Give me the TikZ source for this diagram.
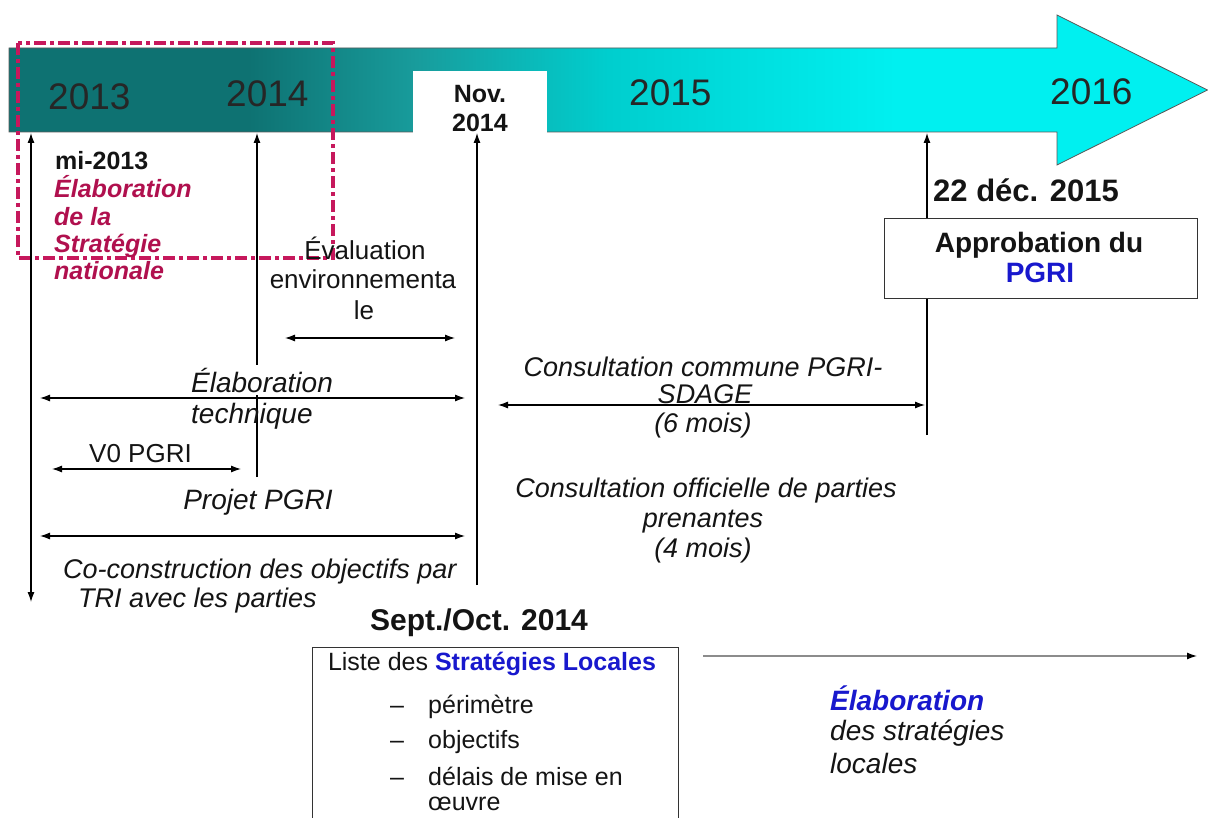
\documentclass[tikz,border=0pt]{standalone}
\usepackage{fontspec}
\setmainfont{Liberation Sans}
\usetikzlibrary{arrows.meta}
\definecolor{txt}{RGB}{20,20,20}
\definecolor{crim}{RGB}{176,16,78}
\definecolor{pinkln}{RGB}{198,24,92}
\definecolor{pblue}{RGB}{24,24,205}
\definecolor{tla}{RGB}{14,114,114}
\definecolor{tlb}{RGB}{24,156,156}
\definecolor{tlc}{RGB}{0,206,206}
\definecolor{tld}{RGB}{0,240,240}
\pgfdeclarehorizontalshading{timeline}{100bp}{color(0bp)=(tla); color(35bp)=(tla); color(42bp)=(tlb); color(50bp)=(tlc); color(62bp)=(tld); color(100bp)=(tld)}
\newcommand{\myfs}[1]{\fontsize{#1}{#1}\selectfont}
\begin{document}
\begin{tikzpicture}[x=1pt,y=-1pt,
  >={Latex[length=10pt,width=7pt]},
  every node/.style={inner sep=0pt, text=txt},
  conn/.style={draw=black, line width=1.1pt},
  yr/.style={font=\myfs{37}, text=black!85, anchor=base west},
  nrm/.style={font=\myfs{26}},
  itl/.style={font=\itshape\myfs{27}},
  itlb/.style={font=\itshape\myfs{28}},
  bld/.style={font=\bfseries\myfs{25}},
  strat/.style={font=\bfseries\itshape\myfs{25}, text=crim, anchor=base west},
  lst/.style={font=\myfs{25}, anchor=base west},
  boxed/.style={draw=black!80, line width=1pt, fill=white}
]
\useasboundingbox (0,0) rectangle (1208,818);

% timeline arrow
\shadedraw[shading=timeline, draw=black!65, line width=0.8pt]
  (9,48) -- (1057,48) -- (1057,15) -- (1207.5,90) -- (1057,165) -- (1057,132) -- (9,132) -- cycle;
\fill[white] (413,71) rectangle (547,133);

% national strategy frame
\draw[pinkln, line width=3.5pt, dash pattern=on 12pt off 4pt on 4pt off 4pt] (18,43) rectangle (333,258);

% years
\node[yr] (t2013) at (48,110) {2013};
\node[yr] (t2014) at (226,107) {2014};
\node[yr] (t2015) at (629,106) {2015};
\node[yr] (t2016) at (1050,105) {2016};
\node[bld, anchor=base] (nov1) at (480,103) {Nov.};
\node[bld, anchor=base] (nov2) at (480,132) {2014};

% coordinates
\coordinate (a1) at (31,133);  \coordinate (a2) at (31,602);
\coordinate (b1) at (257,133); \coordinate (b2) at (257,477);
\coordinate (c1) at (477,133); \coordinate (c2) at (477,585);
\coordinate (d1) at (927,133); \coordinate (d2) at (927,435);
\coordinate (envL) at (285,338); \coordinate (envR) at (455,338);
\coordinate (techL) at (40,398); \coordinate (techR) at (465,398);
\coordinate (v0L) at (52,469);   \coordinate (v0R) at (241,469);
\coordinate (prjL) at (40,536);  \coordinate (prjR) at (465,536);
\coordinate (conL) at (498,405); \coordinate (conR) at (925,405);
\coordinate (locL) at (703,656); \coordinate (locR) at (1197,656);

% vertical connectors
\draw[conn,<->] (a1) -- (a2);
\draw[conn,->] (b2) -- (b1);
\draw[conn,->] (c2) -- (c1);
\draw[conn,->] (d2) -- (d1);

% horizontal connectors
\draw[conn,<->] (envL) -- (envR);
\draw[conn,<->] (techL) -- (techR);
\draw[conn,<->] (v0L) -- (v0R);
\draw[conn,<->] (prjL) -- (prjR);
\draw[conn,<->] (conL) -- (conR);
\draw[draw=black!45, line width=1.3pt, -{Latex[length=10pt,width=7pt,color=black]}] (locL) -- (locR);

% national strategy text
\node[bld, anchor=base west] (mi) at (55,170) {mi-2013};
\node[strat] (s1) at (54,198) {Élaboration};
\node[strat] (s2) at (54,226) {de la};
\node[strat] (s3) at (54,253) {Stratégie};
\node[strat] (s4) at (54,280) {nationale};

% environmental evaluation
\node[nrm, anchor=base] (ev1) at (365,260) {Évaluation};
\node[nrm, anchor=base] (ev2) at (363,289) {environnementa};
\node[nrm, anchor=base] (ev3) at (364,320) {le};

% technical elaboration
\node[itlb, anchor=base west, fill=white, inner sep=3pt] (et1) at (188,392) {Élaboration};
\node[itlb, anchor=base west] (et2) at (191,423) {technique};
\node[nrm, anchor=base west] (v0) at (89,462) {V0 PGRI};
\node[itlb, anchor=base] (prj) at (258,509) {Projet PGRI};
\node[itl, anchor=base west] (cst1) at (63,578) {Co-construction des objectifs par};
\node[itl, anchor=base west] (cst2) at (78,607) {TRI avec les parties};

% consultations
\node[itl, anchor=base] (cc1) at (703,377) {Consultation commune PGRI-};
\node[itl, anchor=base] (cc2) at (705,403) {SDAGE};
\node[itl, anchor=base] (cc3) at (703,432) {(6 mois)};
\node[itl, anchor=base] (cf1) at (706,497) {Consultation officielle de parties};
\node[itl, anchor=base] (cf2) at (703,527) {prenantes};
\node[itl, anchor=base] (cf3) at (703,557) {(4 mois)};

% approbation
\node[font=\bfseries\myfs{31}, anchor=base west] (dec) at (933,202) {22 déc. 2015};
\node[boxed, minimum width=313pt, minimum height=80pt, anchor=north west] (apbox) at (884,218) {};
\node[font=\bfseries\myfs{28}, anchor=base] (ap1) at (1039,253) {Approbation du};
\node[font=\bfseries\myfs{28}, anchor=base, text=pblue] (ap2) at (1040,283) {PGRI};

% local strategies
\node[font=\bfseries\myfs{30}, anchor=base] (sept) at (479,630) {Sept./Oct. 2014};
\node[draw=black!80, line width=1pt, minimum width=366pt, minimum height=200pt, anchor=north west] (lbox) at (312,647) {};
\node[font=\myfs{25}, anchor=base] (liste) at (492,670) {Liste des {\bfseries\color{pblue}Stratégies Locales}};
\node[lst] (dash1) at (390,713) {–};
\node[lst] (item1) at (428,713) {périmètre};
\node[lst] (dash2) at (390,748) {–};
\node[lst] (item2) at (428,748) {objectifs};
\node[lst] (dash3) at (390,785) {–};
\node[lst] (item3) at (428,785) {délais de mise en};
\node[lst] (item4) at (428,810) {œuvre};

\node[font=\bfseries\itshape\myfs{28}, text=pblue, anchor=base west] (el1) at (830,710) {Élaboration};
\node[itlb, anchor=base west] (el2) at (830,740) {des stratégies};
\node[itlb, anchor=base west] (el3) at (830,773) {locales};
\end{tikzpicture}
\end{document}
